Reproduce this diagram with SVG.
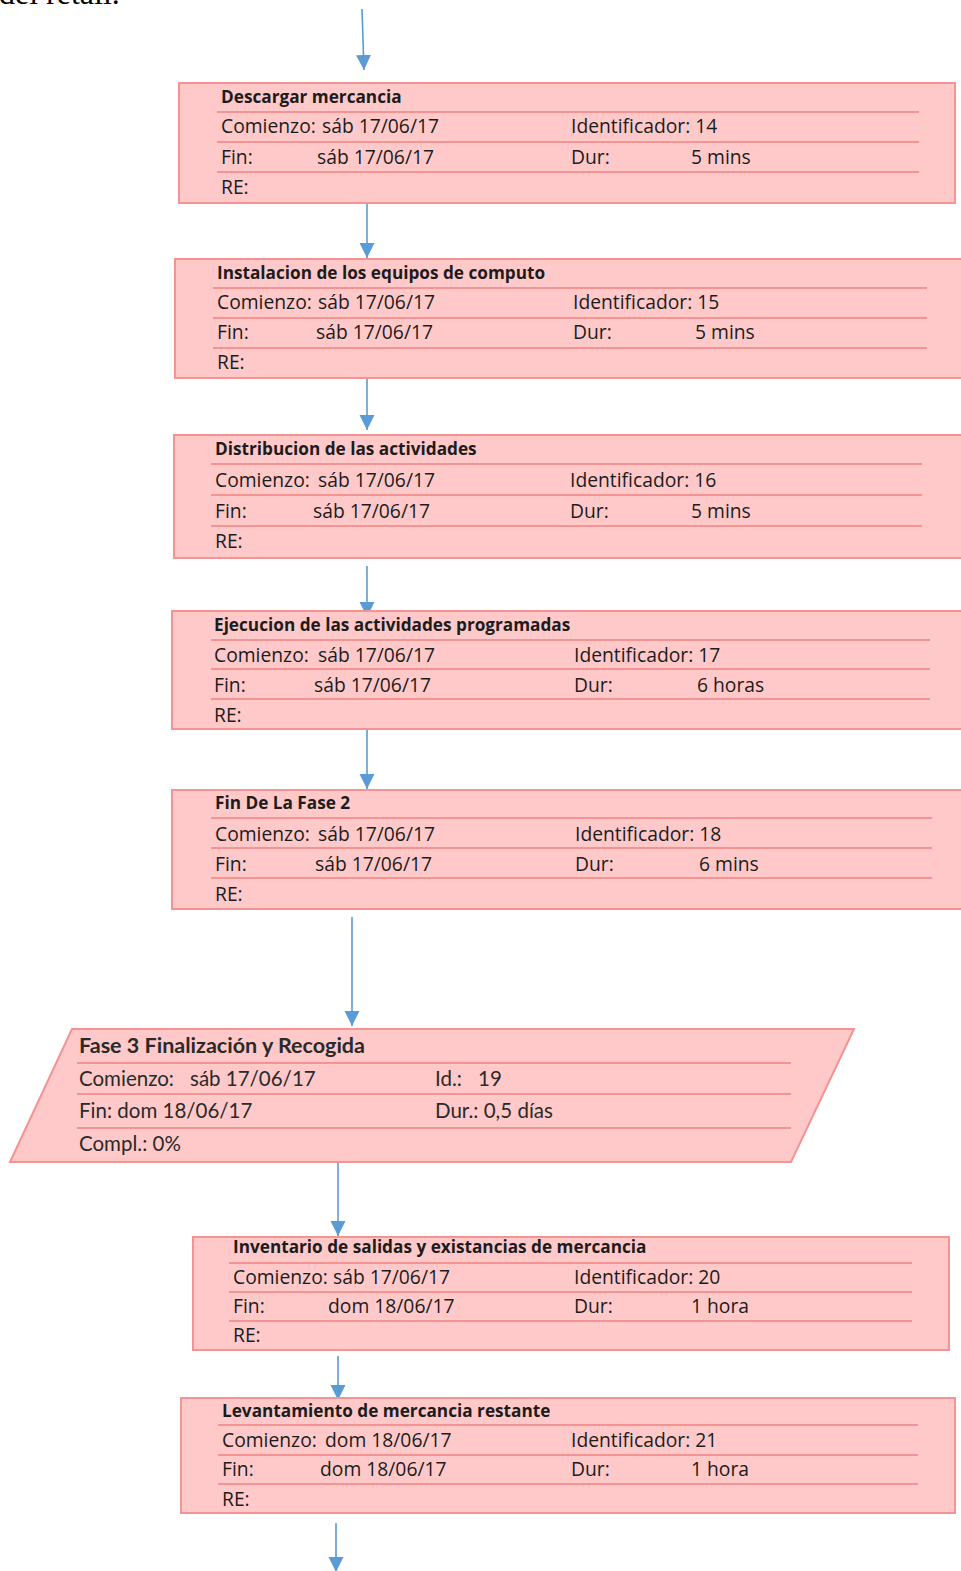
<svg xmlns="http://www.w3.org/2000/svg" width="961" height="1571" viewBox="0 0 961 1571">
<style>
.box{fill:#FFC9C9;stroke:#F59292;stroke-width:2}
.sep{stroke:#F59292;stroke-width:2}
.t{font-family:"Open Sans","DejaVu Sans",sans-serif;font-size:19.3px;fill:#1c1c1c}
.h{font-family:"Open Sans","DejaVu Sans",sans-serif;font-size:17.2px;font-weight:bold;fill:#1c1c1c}
.pt{font-family:Lato,"Liberation Sans",sans-serif;font-size:20.5px;fill:#2a2a2a}
.ph{font-family:Lato,"Liberation Sans",sans-serif;font-size:21px;font-weight:bold;fill:#2a2a2a}
.c{stroke:#5B9BD5;stroke-width:1.6;fill:none;marker-end:url(#ah)}
.top{font-family:"Liberation Serif",serif;font-size:32px;fill:#000}
</style>
<defs>
<marker id="ah" markerUnits="userSpaceOnUse" markerWidth="16" markerHeight="16" refX="15" refY="7.5" orient="auto">
<path d="M0,0 L15,7.5 L0,15 z" fill="#5B9BD5"/>
</marker>
</defs>
<rect width="961" height="1571" fill="#fff"/>
<text class="top" x="-1" y="4">del retail.</text>

<g id="connectors">
<path class="c" d="M362,9 L364,70"/>
<path class="c" d="M367,202 L367,258"/>
<path class="c" d="M367,378 L367,430"/>
<path class="c" d="M367,566 L367,617"/>
<path class="c" d="M367,730 L367,789"/>
<path class="c" d="M352,917 L352,1026"/>
<path class="c" d="M338,1163 L338,1236"/>
<path class="c" d="M338,1356 L338,1400"/>
<path class="c" d="M336,1523 L336,1572"/>
</g>

<g id="n14">
<rect class="box" x="179" y="83" width="776" height="120"/>
<path class="sep" d="M217,112H919M217,142H919M217,172H919"/>
<text class="h" x="221" y="103">Descargar mercancia</text>
<text class="t" x="221" y="133">Comienzo:</text><text class="t" x="322" y="133">sáb 17/06/17</text>
<text class="t" x="221" y="164">Fin:</text><text class="t" x="317" y="164">sáb 17/06/17</text>
<text class="t" x="221" y="194">RE:</text>
<text class="t" x="571" y="133">Identificador: 14</text>
<text class="t" x="571" y="164">Dur:</text><text class="t" x="691" y="164">5 mins</text>
</g>

<g id="n15">
<rect class="box" x="175" y="259" width="790" height="119"/>
<path class="sep" d="M213,288H927M213,318H927M213,348H927"/>
<text class="h" x="217" y="279">Instalacion de los equipos de computo</text>
<text class="t" x="217" y="309">Comienzo:</text><text class="t" x="318" y="309">sáb 17/06/17</text>
<text class="t" x="217" y="339">Fin:</text><text class="t" x="316" y="339">sáb 17/06/17</text>
<text class="t" x="217" y="369">RE:</text>
<text class="t" x="573" y="309">Identificador: 15</text>
<text class="t" x="573" y="339">Dur:</text><text class="t" x="695" y="339">5 mins</text>
</g>

<g id="n16">
<rect class="box" x="174" y="435" width="791" height="123"/>
<path class="sep" d="M211,464H922M211,495H922M211,526H922"/>
<text class="h" x="215" y="455">Distribucion de las actividades</text>
<text class="t" x="215" y="487">Comienzo:</text><text class="t" x="318" y="487">sáb 17/06/17</text>
<text class="t" x="215" y="518">Fin:</text><text class="t" x="313" y="518">sáb 17/06/17</text>
<text class="t" x="215" y="548">RE:</text>
<text class="t" x="570" y="487">Identificador: 16</text>
<text class="t" x="570" y="518">Dur:</text><text class="t" x="691" y="518">5 mins</text>
</g>

<g id="n17">
<rect class="box" x="172" y="611" width="793" height="118"/>
<path class="sep" d="M211,640H930M211,669H930M211,699H930"/>
<text class="h" x="214" y="631">Ejecucion de las actividades programadas</text>
<text class="t" x="214" y="662">Comienzo:</text><text class="t" x="318" y="662">sáb 17/06/17</text>
<text class="t" x="214" y="692">Fin:</text><text class="t" x="314" y="692">sáb 17/06/17</text>
<text class="t" x="214" y="722">RE:</text>
<text class="t" x="574" y="662">Identificador: 17</text>
<text class="t" x="574" y="692">Dur:</text><text class="t" x="697" y="692">6 horas</text>
</g>

<g id="n18">
<rect class="box" x="172" y="790" width="793" height="119"/>
<path class="sep" d="M211,818H932M211,848H932M211,878H932"/>
<text class="h" x="215" y="809">Fin De La Fase 2</text>
<text class="t" x="215" y="841">Comienzo:</text><text class="t" x="318" y="841">sáb 17/06/17</text>
<text class="t" x="215" y="871">Fin:</text><text class="t" x="315" y="871">sáb 17/06/17</text>
<text class="t" x="215" y="901">RE:</text>
<text class="t" x="575" y="841">Identificador: 18</text>
<text class="t" x="575" y="871">Dur:</text><text class="t" x="699" y="871">6 mins</text>
</g>

<g id="n19">
<path class="box" d="M72,1029 L854,1029 L791,1162 L10,1162 Z"/>
<path class="sep" d="M77,1063H791M77,1094H791M77,1128H791"/>
<text class="ph" x="79" y="1053" textLength="286" lengthAdjust="spacingAndGlyphs">Fase 3 Finalización y Recogida</text>
<text class="pt" x="79" y="1086">Comienzo:</text><text class="pt" x="190" y="1086">sáb 17/06/17</text>
<text class="pt" x="79" y="1118">Fin: dom 18/06/17</text>
<text class="pt" x="79" y="1151">Compl.: 0%</text>
<text class="pt" x="435" y="1086">Id.:</text><text class="pt" x="478" y="1086">19</text>
<text class="pt" x="435" y="1118">Dur.: 0,5 días</text>
</g>

<g id="n20">
<rect class="box" x="193" y="1237" width="756" height="113"/>
<path class="sep" d="M229,1263H912M229,1292H912M229,1321H912"/>
<text class="h" x="233" y="1253">Inventario de salidas y existancias de mercancia</text>
<text class="t" x="233" y="1284">Comienzo:</text><text class="t" x="333" y="1284">sáb 17/06/17</text>
<text class="t" x="233" y="1313">Fin:</text><text class="t" x="328" y="1313">dom 18/06/17</text>
<text class="t" x="233" y="1342">RE:</text>
<text class="t" x="574" y="1284">Identificador: 20</text>
<text class="t" x="574" y="1313">Dur:</text><text class="t" x="691" y="1313">1 hora</text>
</g>

<g id="n21">
<rect class="box" x="181" y="1398" width="774" height="115"/>
<path class="sep" d="M218,1425H918M218,1455H918M218,1484H918"/>
<text class="h" x="222" y="1417">Levantamiento de mercancia restante</text>
<text class="t" x="222" y="1447">Comienzo:</text><text class="t" x="325" y="1447">dom 18/06/17</text>
<text class="t" x="222" y="1476">Fin:</text><text class="t" x="320" y="1476">dom 18/06/17</text>
<text class="t" x="222" y="1506">RE:</text>
<text class="t" x="571" y="1447">Identificador: 21</text>
<text class="t" x="571" y="1476">Dur:</text><text class="t" x="691" y="1476">1 hora</text>
</g>
</svg>
